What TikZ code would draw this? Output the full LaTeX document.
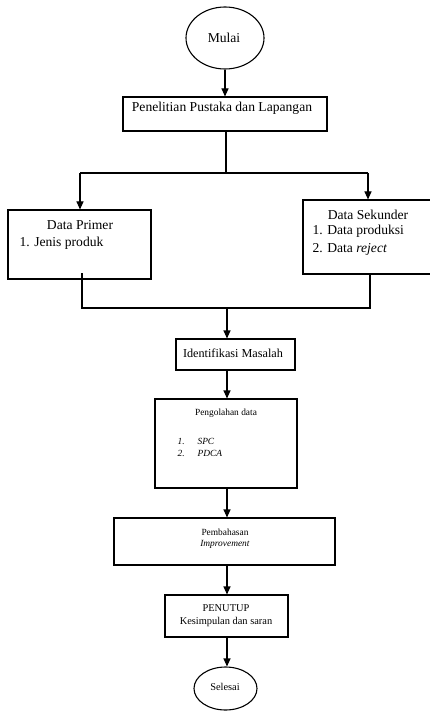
\documentclass[tikz,border=0pt]{standalone}
\usepackage{fontspec}
\setmainfont{Liberation Serif}
\usetikzlibrary{arrows.meta,shapes.geometric}
\begin{document}
\begin{tikzpicture}[x=1pt,y=-1pt,
  line width=1.1pt,
  box/.style={draw,rectangle,inner sep=0pt,line width=1.1pt},
  oval/.style={draw,ellipse,inner sep=0pt,line width=1.1pt},
  txt/.style={inner sep=0pt,anchor=center},
  ltxt/.style={inner sep=0pt,anchor=west},
  arr/.style={-{Triangle[length=8pt,width=7pt]}},
  big/.style={font=\fontsize{13.6}{16}\selectfont},
  mid/.style={font=\fontsize{12.2}{14}\selectfont},
  sml/.style={font=\fontsize{9.4}{11}\selectfont},
  med/.style={font=\fontsize{10.4}{12}\selectfont}]
\useasboundingbox (0,0) rectangle (429,711);
% shapes
\node[oval,minimum width=78pt,minimum height=62pt] (mulai) at (225,38) {};
\node[txt,big] (tmulai) at (224,38) {Mulai};
\node[box,minimum width=204pt,minimum height=34pt] (pen) at (225,114) {};
\node[txt,big] (tpen) at (222,108) {Penelitian Pustaka dan Lapangan};
\node[box,minimum width=143pt,minimum height=69pt] (primer) at (79.5,244.5) {};
\node[txt,big] (tprim) at (80,225) {Data Primer};
\node[ltxt,big] (tprim1) at (19,243) {1. Jenis produk};
\node[box,minimum width=130pt,minimum height=74pt] (sek) at (368,237) {};
\node[txt,big] (tsek) at (368,215) {Data Sekunder};
\node[ltxt,big] (tsek1) at (312,231) {1. Data produksi};
\node[ltxt,big] (tsek2) at (312,249) {2. Data \textit{reject}};
\node[box,minimum width=119pt,minimum height=31pt] (ident) at (235.5,354.5) {};
\node[txt,mid] (tident) at (233,353) {Identifikasi Masalah};
\node[box,minimum width=142pt,minimum height=89pt] (olah) at (226,443.5) {};
\node[txt,sml] (tolah) at (226,413) {Pengolahan data};
\node[ltxt,sml] (tolah1) at (177,441) {\textit{1.}};
\node[ltxt,sml] (tolah1b) at (197,441) {\textit{SPC}};
\node[ltxt,sml] (tolah2) at (177,453) {\textit{2.}};
\node[ltxt,sml] (tolah2b) at (197,453) {\textit{PDCA}};
\node[box,minimum width=221pt,minimum height=47pt] (bahas) at (224.5,541.5) {};
\node[txt,sml] (tbahas) at (225,532) {Pembahasan};
\node[txt,sml] (tbahas2) at (225,544) {\textit{Improvement}};
\node[box,minimum width=123pt,minimum height=42pt] (tutup) at (226.5,616) {};
\node[txt,med] (ttutup) at (226,608) {PENUTUP};
\node[txt,med] (ttutup2) at (226,622) {Kesimpulan dan saran};
\node[oval,minimum width=63pt,minimum height=43pt] (selesai) at (225.5,688.5) {};
\node[txt,med] (tsel) at (225,687) {Selesai};
% connectors
\coordinate (split) at (226,173);
\coordinate (splitL) at (80,173);
\coordinate (splitR) at (368,173);
\coordinate (pstart) at (82,273);
\coordinate (joinL) at (82,308);
\coordinate (joinR) at (370,308);
\coordinate (joinM) at (227,308);
\coordinate (sstart) at (370,274);
\draw[arr] (mulai.south) -- (pen.north -| mulai.south);
\draw (pen.south -| split) -- (split);
\draw (splitL) -- (splitR);
\draw[arr] (splitL) -- (primer.north -| splitL);
\draw[arr] (splitR) -- (sek.north -| splitR);
\draw (pstart) -- (joinL) -- (joinR) -- (sstart);
\draw[arr] (joinM) -- (ident.north -| joinM);
\draw[arr] (ident.south -| joinM) -- (olah.north -| joinM);
\draw[arr] (olah.south -| joinM) -- (bahas.north -| joinM);
\draw[arr] (bahas.south -| joinM) -- (tutup.north -| joinM);
\draw[arr] (tutup.south -| joinM) -- (selesai.north -| joinM);
\end{tikzpicture}
\end{document}
